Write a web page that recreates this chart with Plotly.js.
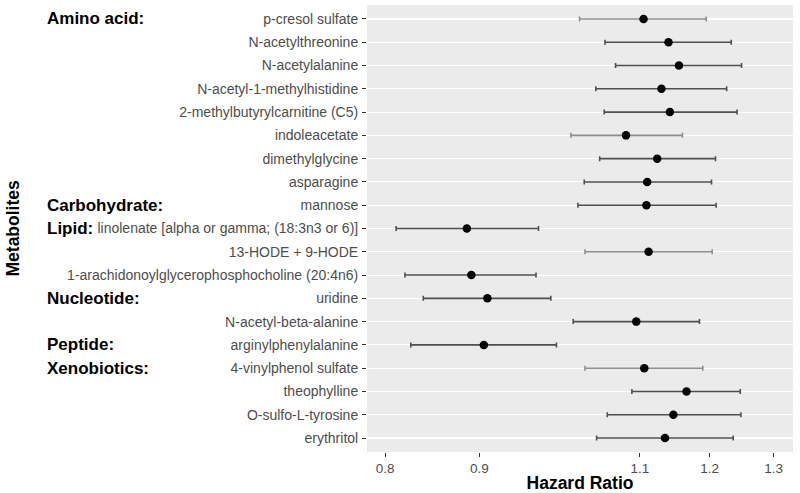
<!DOCTYPE html>
<html>
<head>
<meta charset="utf-8">
<script src="https://cdn.plot.ly/plotly-3.0.1.min.js"></script>
<style>
  html, body { margin: 0; padding: 0; background: #ffffff; }
  #chart { width: 800px; height: 493px; }
</style>
</head>
<body>
<div id="chart"></div>
<script>
// ---- data ----
const metabolites = [
  'p-cresol sulfate',
  'N-acetylthreonine',
  'N-acetylalanine',
  'N-acetyl-1-methylhistidine',
  '2-methylbutyrylcarnitine (C5)',
  'indoleacetate',
  'dimethylglycine',
  'asparagine',
  'mannose',
  'linolenate [alpha or gamma; (18:3n3 or 6)]',
  '13-HODE + 9-HODE',
  '1-arachidonoylglycerophosphocholine (20:4n6)',
  'uridine',
  'N-acetyl-beta-alanine',
  'arginylphenylalanine',
  '4-vinylphenol sulfate',
  'theophylline',
  'O-sulfo-L-tyrosine',
  'erythritol'
];
const hazardRatio = [1.105, 1.140, 1.155, 1.130, 1.142, 1.081, 1.124, 1.110, 1.109, 0.886, 1.112, 0.891, 0.909, 1.095, 0.905, 1.106, 1.166, 1.147, 1.135];
const ciLower     = [1.020, 1.053, 1.067, 1.041, 1.052, 1.009, 1.046, 1.026, 1.018, 0.811, 1.027, 0.820, 0.839, 1.012, 0.826, 1.027, 1.089, 1.056, 1.042];
const ciUpper     = [1.195, 1.233, 1.249, 1.226, 1.242, 1.160, 1.209, 1.203, 1.210, 0.969, 1.204, 0.966, 0.984, 1.185, 0.991, 1.190, 1.247, 1.248, 1.236];
// rows whose interval is drawn in the lighter tone in the original
const lightInterval = [true, false, false, false, false, true, false, false, false, false, true, false, false, false, false, true, false, false, false];

const groupLabels = ['Amino acid:', 'Carbohydrate:', 'Lipid:', 'Nucleotide:', 'Peptide:', 'Xenobiotics:'];
const groupFirstRow = ['p-cresol sulfate', 'mannose', 'linolenate [alpha or gamma; (18:3n3 or 6)]', 'uridine', 'arginylphenylalanine', '4-vinylphenol sulfate'];

const xTicks = [0.8, 0.9, 1.1, 1.2, 1.3];
const referenceHR = 1.0;
const xMin = 0.782, xMax = 1.332;

// ---- build ----
const FONT = 'Liberation Sans, Arial, sans-serif';
const W = 800, H = 493;
const margin = {l: 367, r: 7, t: 5, b: 41};
const plotW = W - margin.l - margin.r;

function intervalTrace(isLight) {
  const y = [], x = [], plus = [], minus = [];
  metabolites.forEach((m, i) => {
    if (lightInterval[i] === isLight) {
      y.push(m); x.push(hazardRatio[i]);
      plus.push(ciUpper[i] - hazardRatio[i]);
      minus.push(hazardRatio[i] - ciLower[i]);
    }
  });
  return {
    type: 'scatter', mode: 'markers', x: x, y: y,
    marker: {size: 1, opacity: 0},
    error_x: {
      type: 'data', symmetric: false, array: plus, arrayminus: minus,
      color: isLight ? '#8f8f8f' : '#4f4f4f', thickness: 1.6, width: 2.5
    },
    hoverinfo: 'skip', showlegend: false
  };
}

const traces = [
  intervalTrace(true),
  intervalTrace(false),
  {
    type: 'scatter', mode: 'markers', x: hazardRatio, y: metabolites,
    marker: {size: 8.5, color: '#000000'},
    showlegend: false
  }
];

const annotations = groupLabels.map((lab, i) => ({
  text: lab, xref: 'paper', yref: 'y',
  x: (45 - margin.l) / plotW, y: groupFirstRow[i],
  xanchor: 'left', yanchor: 'middle', showarrow: false,
  font: {family: FONT, size: 17, color: '#000000', weight: 'bold'}
}));
annotations.push({
  text: 'Metabolites', xref: 'paper', yref: 'paper',
  x: (12 - margin.l) / plotW, y: 0.5, textangle: -90,
  xanchor: 'center', yanchor: 'middle', showarrow: false,
  font: {family: FONT, size: 17.5, color: '#000000', weight: 'bold'}
});

const layout = {
  width: W, height: H,
  margin: margin,
  paper_bgcolor: '#ffffff',
  plot_bgcolor: '#ebebeb',
  font: {family: FONT, color: '#4d4d4d'},
  showlegend: false,
  xaxis: {
    type: 'log',
    range: [Math.log10(xMin), Math.log10(xMax)],
    autorange: false,
    tickmode: 'array', tickvals: xTicks, ticktext: xTicks.map(v => v.toFixed(1)),
    showgrid: false, zeroline: false, showline: false,
    ticks: 'outside', ticklen: 4, tickwidth: 1, tickcolor: '#333333',
    tickfont: {family: FONT, size: 13.5, color: '#4d4d4d'},
    title: {text: 'Hazard Ratio', font: {family: FONT, size: 17.5, color: '#000000', weight: 'bold'}, standoff: 4}
  },
  yaxis: {
    type: 'category',
    categoryorder: 'array', categoryarray: metabolites,
    range: [metabolites.length - 0.4, -0.6],
    autorange: false,
    showgrid: true, gridcolor: '#ffffff', gridwidth: 1.1,
    zeroline: false, showline: false,
    ticks: 'outside', ticklen: 4, tickwidth: 1, tickcolor: '#333333',
    ticklabelstandoff: 1,
    tickfont: {family: FONT, size: 14, color: '#4d4d4d'}
  },
  shapes: [{
    type: 'line', xref: 'x', yref: 'paper',
    x0: Math.log10(referenceHR), x1: Math.log10(referenceHR), y0: 0, y1: 1,
    line: {color: '#bdbdbd', width: 1.5}, layer: 'below'
  }],
  annotations: annotations
};

Plotly.newPlot('chart', traces, layout, {staticPlot: true, displayModeBar: false});
</script>
</body>
</html>
